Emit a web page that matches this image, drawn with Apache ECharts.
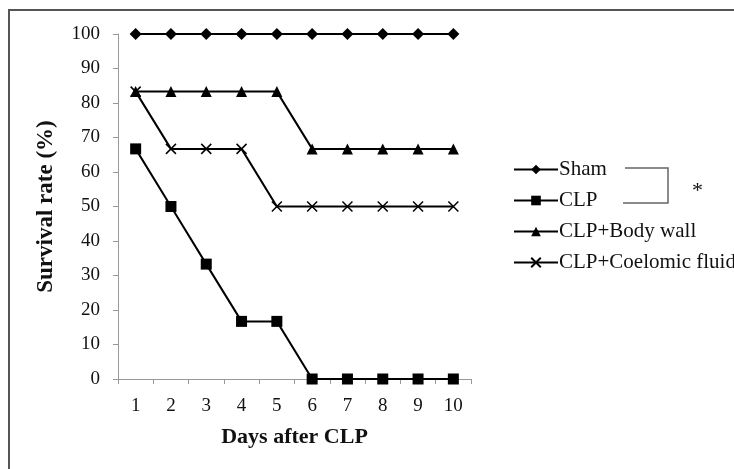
<!DOCTYPE html>
<html><head><meta charset="utf-8">
<script src="https://cdn.jsdelivr.net/npm/echarts@6/dist/echarts.min.js"></script>
<style>html,body{margin:0;padding:0;background:#fff}#c{width:734px;height:469px}</style>
</head><body><div id="c"></div>
<script>
const days = ['1','2','3','4','5','6','7','8','9','10'];
const sham = [100,100,100,100,100,100,100,100,100,100];
const clp = [66.7,50,33.3,16.7,16.7,0,0,0,0,0];
const bodyWall = [83.3,83.3,83.3,83.3,83.3,66.7,66.7,66.7,66.7,66.7];
const coelomic = [83.3,66.7,66.7,66.7,50,50,50,50,50,50];
const names = ['Sham','CLP','CLP+Body wall','CLP+Coelomic fluid'];

const font = 'Liberation Serif';
const chart = echarts.init(document.getElementById('c'));
function ser(name, data, symbol, size, extra){
  return Object.assign({
    name, type:'line', data, symbol, symbolSize:size,
    lineStyle:{color:'#000',width:2}, itemStyle:{color:'#000'},
    animation:false
  }, extra||{});
}
chart.setOption({
  animation:false,
  grid:{left:118,right:263,top:34,bottom:90},
  legend:{
    orient:'vertical', left:508, top:154, itemWidth:44, itemHeight:12, itemGap:10,
    textStyle:{fontFamily:font,fontSize:21,color:'#111',padding:[0,0,0,-4]},
    data:names
  },
  xAxis:{
    type:'category', data:days, boundaryGap:true,
    name:'Days after CLP', nameLocation:'middle', nameGap:47,
    nameTextStyle:{fontFamily:font,fontSize:22,fontWeight:'bold',color:'#111'},
    axisLine:{lineStyle:{color:'#999',width:1}},
    axisTick:{show:true,length:5,alignWithLabel:false,lineStyle:{color:'#999'}},
    axisLabel:{fontFamily:font,fontSize:19,color:'#111',margin:18}
  },
  yAxis:{
    type:'value', min:0, max:100, interval:10,
    name:'Survival rate (%)', nameLocation:'middle', nameGap:60,
    nameTextStyle:{fontFamily:font,fontSize:23,fontWeight:'bold',color:'#111'},
    axisLine:{show:true,lineStyle:{color:'#999',width:1}},
    axisTick:{show:true,length:5,lineStyle:{color:'#999'}},
    splitLine:{show:false},
    axisLabel:{fontFamily:font,fontSize:19,color:'#111',margin:18}
  },
  series:[
    ser(names[0], sham, 'diamond', 12),
    ser(names[1], clp, 'rect', 11),
    ser(names[2], bodyWall, 'triangle', 11),
    ser(names[3], coelomic, 'path://M0,0L10,10M10,0L0,10', 10,
      {itemStyle:{color:'none',borderColor:'#000',borderWidth:1.5}})
  ],
  graphic:[
    {type:'polyline',shape:{points:[[9,469],[9,10],[734,10]]},style:{stroke:'#555',lineWidth:2,fill:null}},
    {type:'polyline',shape:{points:[[625,168],[668,168],[668,203],[623,203]]},style:{stroke:'#666',lineWidth:1.5,fill:null}},
    {type:'text',left:692,top:180,style:{text:'*',fontFamily:font,fontSize:22,fill:'#111'}}
  ]
});
</script></body></html>
